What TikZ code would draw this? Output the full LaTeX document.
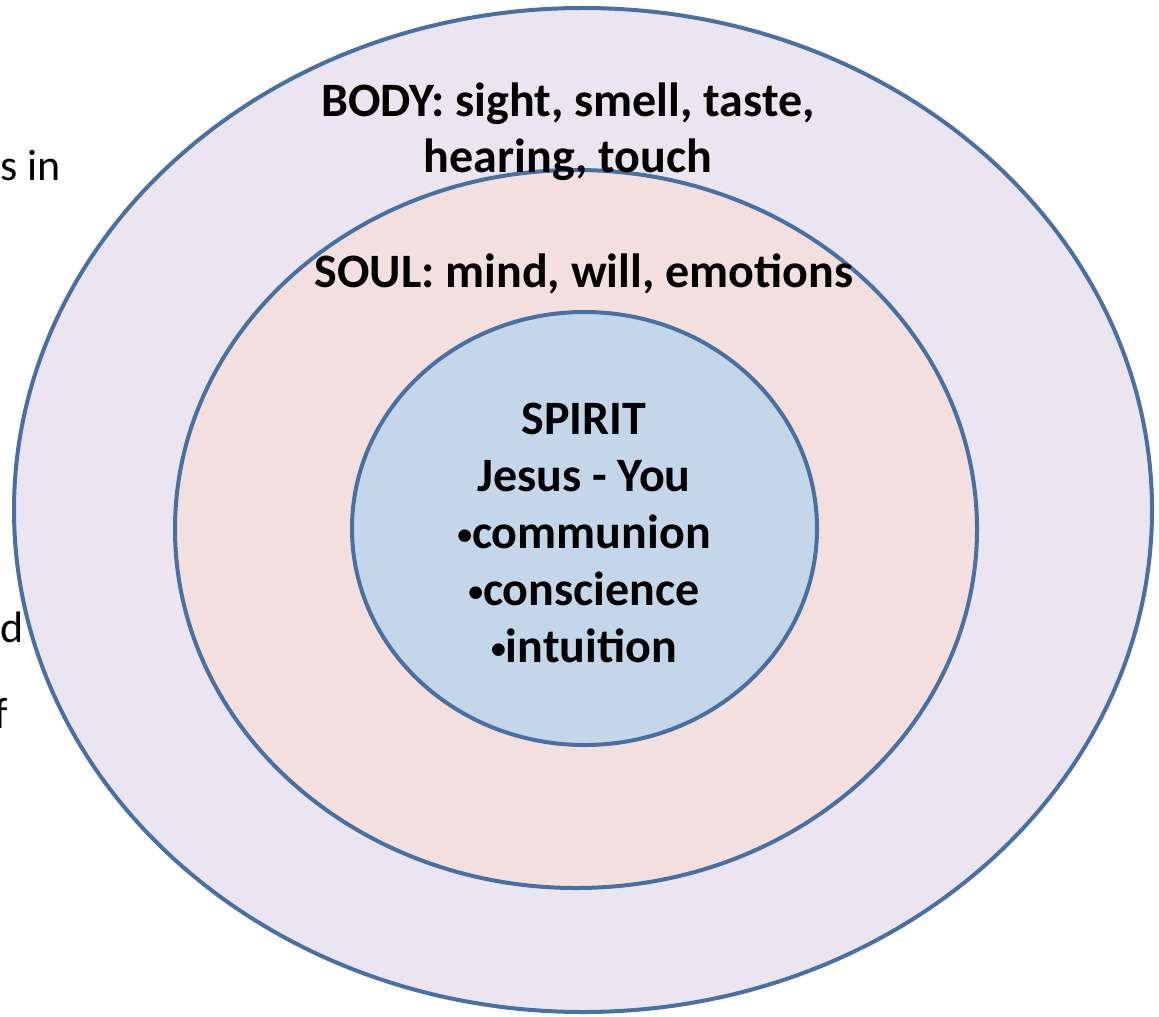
\documentclass[tikz,border=0pt]{standalone}
\usepackage{fontspec}
\setmainfont{Carlito}
\usepackage{tikz}
\usetikzlibrary{shapes.geometric,positioning}
\definecolor{ringedge}{RGB}{72,112,162}
\definecolor{bodyfill}{RGB}{234,229,240}
\definecolor{soulfill}{RGB}{243,224,222}
\definecolor{spiritfill}{RGB}{196,214,234}
\newcommand{\spot}{\raisebox{0.18ex}{\scalebox{0.62}{\textbullet}}}
\tikzset{
  ring/.style={
    shape=ellipse, draw=ringedge, line width=2pt, inner sep=0pt
  },
  bodyring/.style={ring, fill=bodyfill, minimum width=569pt, minimum height=502pt},
  soulring/.style={ring, fill=soulfill, minimum width=401pt, minimum height=359pt},
  spiritring/.style={ring, fill=spiritfill, minimum width=232.5pt, minimum height=216.5pt},
  lbl/.style={
    align=center, inner sep=0pt,
    font=\fontsize{24}{28}\selectfont\bfseries
  },
  cut/.style={inner sep=0pt, font=\fontsize{22}{26}\selectfont}
}
\begin{document}
\begin{tikzpicture}[x=0.5pt,y=-0.5pt]
  \useasboundingbox (0,0) rectangle (1159,1016);
  % rings
  \node[bodyring] (body) at (583,510) {};
  \node[soulring] (soul) at (576,529) {};
  \node[spiritring] (spirit) at (584.5,528.5) {};
  % labels
  \node[lbl] (bodytxt) at (568,132) {BODY: sight, smell, taste,\\hearing, touch};
  \node[lbl, anchor=base] (soultxt) at (584,287) {SOUL: mind, will, emotions};
  \node[lbl, font=\fontsize{24}{28.5}\selectfont\bfseries] (spirittxt) at (584,533)
    {SPIRIT\\Jesus - You\\\spot communion\\\spot conscience\\\spot intuition};
  % text cut off at the left edge
  \node[cut, anchor=base west] (cuta) at (0,180) {s in};
  \node[cut, anchor=base east] (cutb) at (24,642) {d};
  \node[cut, anchor=base east] (cutc) at (8,728) {f};
\end{tikzpicture}
\end{document}
